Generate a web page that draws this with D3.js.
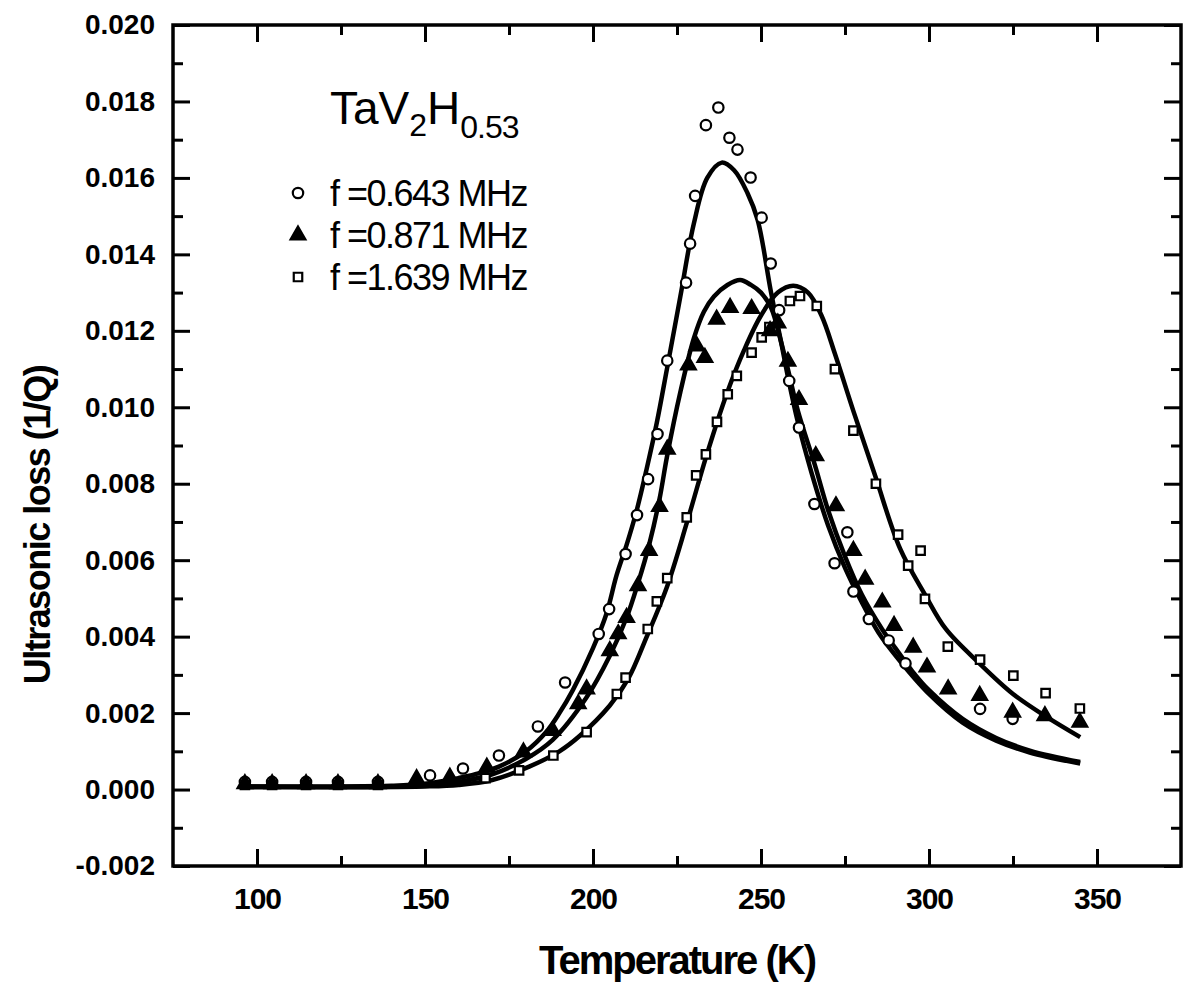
<!DOCTYPE html>
<html lang="en">
<head>
<meta charset="UTF-8">
<title>TaV2H0.53 ultrasonic loss</title>
<script src="https://d3js.org/d3.v7.min.js"></script>
<style>
    body { margin: 0; background: #fff; }
    svg { display: block; }
    text { font-family: "Liberation Sans", Arial, sans-serif; fill: #000; }
    .axis path { display: none; }
    .axis line { stroke: #000; stroke-width: 3px; }
    .axis text { font-size: 28px; font-weight: bold; }
    .xaxis text { font-size: 30px; letter-spacing: -1px; }
    .fit { fill: none; stroke: #000; stroke-width: 4.5px; }
</style>
</head>
<body>
<div id="chart"></div>
<script>
    // axis ticks
    const xTicks = [100, 150, 200, 250, 300, 350];
    const xMinor = [125, 175, 225, 275, 325];
    const yTicks = [-0.002, 0.000, 0.002, 0.004, 0.006, 0.008, 0.010, 0.012, 0.014, 0.016, 0.018, 0.020];
    const yMinor = [-0.001, 0.001, 0.003, 0.005, 0.007, 0.009, 0.011, 0.013, 0.015, 0.017, 0.019];

    // measured points, f = 0.643 MHz (circles)
    const circT = [96.4, 104.5, 114.6, 124.1, 136, 151.5, 161.3, 172, 183.6, 191.7, 201.7, 204.8, 209.7, 213.1, 216.4, 219.2,
        222.1, 227.7, 228.9, 230.4, 233.6, 237.3, 240.6, 243, 246.9, 250.2, 252.9, 255.4, 258.4, 261.3, 265.9, 271.9,
        275.7, 277.5, 282.1, 288, 293, 315.2, 324.9];
    const circV = [0.0002, 0.0002, 0.0002, 0.0002, 0.0002, 0.00037, 0.00055, 0.00089, 0.00165, 0.0028, 0.00407, 0.00472, 0.00616, 0.00718, 0.00812, 0.0093,
        0.01122, 0.01326, 0.01428, 0.01553, 0.01738, 0.01784, 0.01705, 0.01674, 0.01601, 0.01496, 0.01376, 0.01254, 0.01069, 0.00947, 0.00747, 0.00592,
        0.00673, 0.00518, 0.00446, 0.0039, 0.0033, 0.00211, 0.00185];

    // f = 0.871 MHz (filled triangles)
    const triT = [96.4, 104.5, 114.6, 124.1, 136, 147.5, 157.4, 168.4, 179.3, 188, 195.6, 198.1, 205, 207.5, 210, 213.4,
        216.7, 219.8, 222.1, 228.4, 230.9, 233.3, 236.8, 240.8, 247.2, 252.7, 255, 258, 261.3, 266.3, 272.3, 277.5,
        281, 286.1, 289.6, 295.3, 299.4, 305.7, 315.1, 324.9, 334.5, 344.9];
    const triV = [0.00015, 0.00015, 0.00015, 0.00015, 0.00015, 0.00028, 0.00032, 0.00058, 0.00098, 0.00154, 0.00224, 0.00263, 0.00363, 0.00407, 0.0045, 0.00533,
        0.00625, 0.0074, 0.0089, 0.0111, 0.0116, 0.0113, 0.0123, 0.01261, 0.01258, 0.0120, 0.0122, 0.0112, 0.0102, 0.00873, 0.00742, 0.00625,
        0.0055, 0.0049, 0.00429, 0.00372, 0.0032, 0.00263, 0.00246, 0.00202, 0.00193, 0.00176];

    // f = 1.639 MHz (open squares)
    const sqT = [96.4, 104.5, 114.6, 124.1, 136, 168, 178, 188.2, 198.1, 207.1, 209.7, 216.3, 219, 222.1, 227.9, 230.7,
        233.6, 236.9, 240.1, 242.8, 247.2, 250.2, 252.5, 258.6, 261.6, 266.6, 272, 277.5, 284.2, 290.8, 293.8, 297.5,
        298.8, 305.6, 315.2, 325.1, 334.7, 344.9];
    const sqV = [0.00012, 0.00012, 0.00012, 0.00012, 0.00012, 0.0003, 0.0005, 0.00089, 0.0015, 0.0025, 0.00293, 0.0042, 0.00492, 0.00553, 0.00712, 0.00822,
        0.00877, 0.00962, 0.01034, 0.01082, 0.01143, 0.01183, 0.0121, 0.01278, 0.01291, 0.01265, 0.011, 0.00939, 0.008, 0.00667, 0.00586, 0.00625,
        0.00499, 0.00374, 0.0034, 0.00298, 0.00252, 0.00212];

    // fitted curves
    const fit1T = [96, 140, 150, 160, 165, 172, 180, 186, 190, 194, 200, 204, 207, 210, 213, 216, 219, 222, 226, 230, 234, 238.3,
        242, 246, 249, 253, 256, 258, 261, 265, 270, 275, 280, 285, 291, 300, 310, 320, 330, 345];
    const fit1V = [0.00008, 0.0001, 0.00015, 0.0003, 0.0004, 0.0006, 0.0010, 0.0015, 0.0020, 0.0026, 0.0037, 0.0046, 0.0056, 0.0064, 0.0073, 0.0084, 0.0096, 0.0110, 0.0129, 0.0148, 0.0160, 0.0164,
        0.0162, 0.0156, 0.0149, 0.0130, 0.0117, 0.0108, 0.0096, 0.0083, 0.0069, 0.0058, 0.0049, 0.0041, 0.0034, 0.0025, 0.00175, 0.00128, 0.00097, 0.00068];

    const fit2T = [96, 150, 160, 170, 180, 188, 198, 205, 210, 213.4, 216.7, 219.8, 222, 226, 230, 233, 236, 240, 243.8,
        247, 250, 253, 256, 258, 261, 266, 270, 275, 280, 286, 290, 295, 300, 310, 320, 330, 345];
    const fit2V = [0.00008, 0.0001, 0.0002, 0.0004, 0.0008, 0.0013, 0.0024, 0.0035, 0.0045, 0.0054, 0.0064, 0.0076, 0.0087, 0.0104, 0.0118, 0.0125, 0.0129, 0.0132, 0.01333,
        0.0132, 0.0130, 0.0126, 0.0117, 0.0110, 0.0099, 0.0085, 0.0073, 0.0061, 0.0051, 0.0042, 0.0037, 0.0031, 0.0026, 0.00185, 0.00135, 0.00102, 0.00072];

    const fit3T = [96, 150, 160, 170, 181, 190, 196, 205, 210.5, 216, 222, 228, 234, 240, 245, 250, 255, 259.6,
        264, 268, 272, 277.5, 284, 291.4, 298.8, 305, 315, 325, 335, 345];
    const fit3V = [0.00006, 0.00008, 0.00012, 0.00025, 0.0006, 0.0010, 0.0014, 0.0022, 0.0029, 0.0040, 0.0053, 0.0070, 0.0088, 0.0104, 0.0115, 0.0124, 0.0130, 0.01318,
        0.0130, 0.0124, 0.0114, 0.0099, 0.0082, 0.0063, 0.0051, 0.0042, 0.0033, 0.0025, 0.0019, 0.00137];

    const legendLabels = ["f =0.643 MHz", "f =0.871 MHz", "f =1.639 MHz"];

    const width = 1188, height = 993;
    const plot = { left: 173, right: 1181, top: 25, bottom: 866 };

    const x = d3.scaleLinear().domain([75, 375]).range([plot.left, plot.right]);
    const y = d3.scaleLinear().domain([-0.002, 0.020]).range([plot.bottom, plot.top]);

    const svg = d3.select("#chart").append("svg")
        .attr("width", width)
        .attr("height", height);

    svg.append("rect").attr("width", width).attr("height", height).attr("fill", "#fff");

    // axes: ticks point inward on all four sides
    const fmt = d => d.toFixed(3);

    svg.append("g").attr("class", "axis xaxis")
        .attr("transform", `translate(0,${plot.bottom})`)
        .call(d3.axisBottom(x).tickValues(xTicks).tickSize(-17).tickPadding(22).tickFormat(d3.format("d")));
    svg.append("g").attr("class", "axis")
        .attr("transform", `translate(0,${plot.bottom})`)
        .call(d3.axisBottom(x).tickValues(xMinor).tickSize(-10).tickFormat(""));
    svg.append("g").attr("class", "axis")
        .attr("transform", `translate(0,${plot.top})`)
        .call(d3.axisTop(x).tickValues(xTicks).tickSize(-17).tickFormat(""));
    svg.append("g").attr("class", "axis")
        .attr("transform", `translate(0,${plot.top})`)
        .call(d3.axisTop(x).tickValues(xMinor).tickSize(-10).tickFormat(""));

    svg.append("g").attr("class", "axis yaxis")
        .attr("transform", `translate(${plot.left},0)`)
        .call(d3.axisLeft(y).tickValues(yTicks).tickSize(-17).tickPadding(18).tickFormat(fmt));
    svg.append("g").attr("class", "axis")
        .attr("transform", `translate(${plot.left},0)`)
        .call(d3.axisLeft(y).tickValues(yMinor).tickSize(-10).tickFormat(""));
    svg.append("g").attr("class", "axis")
        .attr("transform", `translate(${plot.right},0)`)
        .call(d3.axisRight(y).tickValues(yTicks).tickSize(-17).tickFormat(""));
    svg.append("g").attr("class", "axis")
        .attr("transform", `translate(${plot.right},0)`)
        .call(d3.axisRight(y).tickValues(yMinor).tickSize(-10).tickFormat(""));

    svg.append("rect")
        .attr("x", plot.left).attr("y", plot.top)
        .attr("width", plot.right - plot.left).attr("height", plot.bottom - plot.top)
        .attr("fill", "none").attr("stroke", "#000").attr("stroke-width", 3.5);

    // axis titles
    svg.append("text")
        .attr("x", 677).attr("y", 974)
        .attr("text-anchor", "middle")
        .style("font-size", "40px").style("font-weight", "bold").style("letter-spacing", "-2px")
        .text("Temperature (K)");
    svg.append("text")
        .attr("transform", "translate(50,525) rotate(-90)")
        .attr("text-anchor", "middle")
        .style("font-size", "36px").style("font-weight", "bold").style("letter-spacing", "-1.5px")
        .text("Ultrasonic loss (1/Q)");

    // fitted curves
    const line = d3.line()
        .x(d => x(d[0]))
        .y(d => y(d[1]))
        .curve(d3.curveCatmullRom.alpha(0.5));

    [[fit1T, fit1V], [fit2T, fit2V], [fit3T, fit3V]].forEach(([ts, vs]) => {
        svg.append("path")
            .datum(ts.map((t, i) => [t, vs[i]]))
            .attr("class", "fit")
            .attr("d", line);
    });

    // markers
    const circleSym = d3.symbol().type(d3.symbolCircle).size(85);
    const triSym = d3.symbol().type(d3.symbolTriangle).size(95);
    const sqSym = d3.symbol().type(d3.symbolSquare).size(72);

    const series = [
        { t: sqT, v: sqV, sym: sqSym, filled: false },
        { t: circT, v: circV, sym: circleSym, filled: false },
        { t: triT, v: triV, sym: triSym, filled: true }
    ];

    series.forEach(s => {
        svg.append("g")
            .selectAll("path")
            .data(s.t.map((t, i) => [t, s.v[i]]))
            .join("path")
            .attr("transform", d => `translate(${x(d[0])},${y(d[1])})`)
            .attr("d", s.sym)
            .attr("fill", s.filled ? "#000" : "#fff")
            .attr("stroke", "#000")
            .attr("stroke-width", 2.2);
    });

    // legend
    const title = svg.append("text")
        .attr("x", 330).attr("y", 124)
        .style("font-size", "46px");
    title.append("tspan").text("TaV");
    title.append("tspan").attr("dy", 12).style("font-size", "32px").text("2");
    title.append("tspan").attr("dy", -12).text("H");
    title.append("tspan").attr("dy", 14).style("font-size", "32px").style("letter-spacing", "-1px").text("0.53");

    const legendSyms = [circleSym, triSym, sqSym];
    legendLabels.forEach((lab, i) => {
        const cy = 193 + i * 42;
        svg.append("path")
            .attr("transform", `translate(298,${cy})`)
            .attr("d", legendSyms[i])
            .attr("fill", i === 1 ? "#000" : "#fff")
            .attr("stroke", "#000")
            .attr("stroke-width", 2.2);
        svg.append("text")
            .attr("x", 330).attr("y", cy + 13)
            .style("font-size", "36px").style("letter-spacing", "-1.5px")
            .text(lab);
    });
</script>
</body>
</html>
